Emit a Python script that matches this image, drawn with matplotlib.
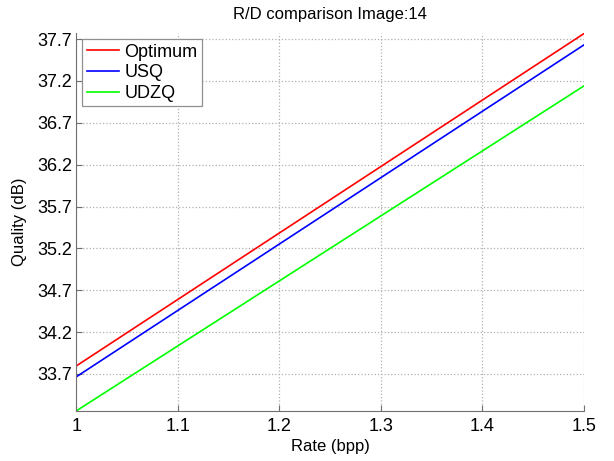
import matplotlib
matplotlib.use("Agg")
import matplotlib.pyplot as plt

plt.rcParams['font.family'] = ['Liberation Sans', 'DejaVu Sans']

rate = [1.0, 1.5]
optimum = [33.795, 37.765]
usq = [33.665, 37.63]
udzq = [33.258, 37.14]
yticks = [33.7, 34.2, 34.7, 35.2, 35.7, 36.2, 36.7, 37.2, 37.7]
xticks = [1.0, 1.1, 1.2, 1.3, 1.4, 1.5]
xticklabels = ['1', '1.1', '1.2', '1.3', '1.4', '1.5']

fig = plt.figure(figsize=(6.14, 4.61), dpi=100)
ax = fig.add_axes([0.124, 0.1085, 0.827, 0.8195])
ax.plot(rate, optimum, color='#ff0000', lw=1.2, label='Optimum')
ax.plot(rate, usq, color='#0000ff', lw=1.2, label='USQ')
ax.plot(rate, udzq, color='#00ff00', lw=1.2, label='UDZQ')
ax.set_xlim(1.0, 1.5)
ax.set_ylim(33.258, 37.77)
ax.set_xticks(xticks)
ax.set_xticklabels(xticklabels)
ax.set_yticks(yticks)
ax.set_yticklabels([f'{v:.1f}' for v in yticks])
ax.grid(True, linestyle=':', color='#b0b0b0', lw=0.9)
for s in ['top', 'right']:
    ax.spines[s].set_visible(False)
for s in ['left', 'bottom']:
    ax.spines[s].set_color('#707070')
ax.tick_params(direction='in', length=4, colors='#707070', labelcolor='black', labelsize=13)
ax.tick_params(axis='x', pad=5)
ax.tick_params(axis='y', pad=3)
ax.set_xlabel('Rate (bpp)', fontsize=12, labelpad=3)
ax.set_ylabel('Quality (dB)', fontsize=12, labelpad=7)
ax.set_title('R/D comparison Image:14', fontsize=12, pad=10)
leg = ax.legend(loc='upper left', fontsize=13, fancybox=False, framealpha=1,
                edgecolor='#909090', handlelength=1.8, handletextpad=0.3,
                borderpad=0.25, labelspacing=0.2, borderaxespad=0.33)
leg.get_frame().set_linewidth(0.9)
fig.savefig('out.png', dpi=100)
